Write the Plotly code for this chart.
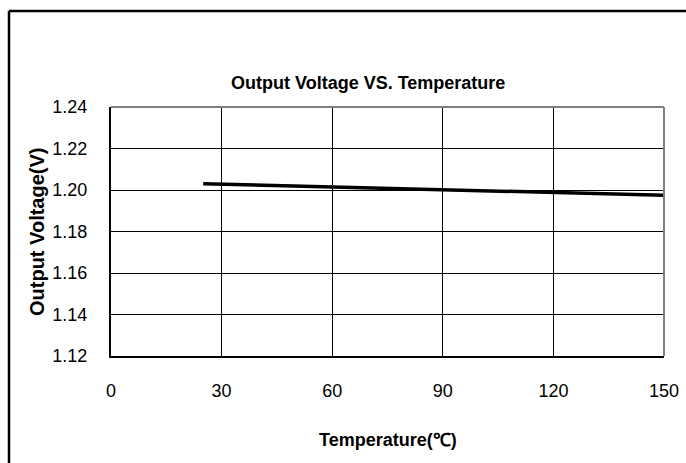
import plotly.graph_objects as go

temperature = [25, 60, 90, 120, 150]
voltage = [1.2030, 1.2015, 1.2000, 1.1990, 1.1975]
x_ticks = [0, 30, 60, 90, 120, 150]
y_ticks = [1.12, 1.14, 1.16, 1.18, 1.20, 1.22, 1.24]

W, H = 686, 463
L, R, T, B = 111, 664, 107, 356

def px(x):
    return (x - L) / (R - L)

def py(y):
    return (B - y) / (B - T)

FONT = "Liberation Sans, Arial, sans-serif"
BFONT = "Liberation Sans, Arial, sans-serif"

fig = go.Figure()
fig.add_trace(go.Scatter(x=temperature, y=voltage, mode="lines",
                         line=dict(color="black", width=3.5), showlegend=False))

fig.update_layout(
    width=W, height=H,
    margin=dict(l=L, r=W - R, t=T, b=H - B),
    paper_bgcolor="white", plot_bgcolor="white",
    xaxis=dict(range=[0, 150], tickvals=x_ticks, ticktext=[str(v) for v in x_ticks],
               showgrid=True, gridcolor="black", gridwidth=1.3, automargin=False,
               showline=True, linecolor="black", linewidth=2,
               ticks="", ticklabelstandoff=17,
               tickfont=dict(family=FONT, size=18, color="black"), zeroline=False),
    yaxis=dict(range=[1.12, 1.24], tickvals=y_ticks, ticktext=[f"{v:.2f}" for v in y_ticks],
               showgrid=True, gridcolor="black", gridwidth=1.3, automargin=False,
               showline=True, linecolor="black", linewidth=2,
               ticks="", ticklabelstandoff=18,
               tickfont=dict(family=FONT, size=18, color="black"), zeroline=False),
    shapes=[
        dict(type="line", xref="paper", yref="paper", x0=0, x1=1, y0=1, y1=1,
             line=dict(color="#808080", width=2)),
        dict(type="line", xref="paper", yref="paper", x0=1, x1=1, y0=0, y1=1,
             line=dict(color="#808080", width=2)),
        dict(type="line", xref="paper", yref="paper", x0=px(9), x1=px(700), y0=py(11), y1=py(11),
             line=dict(color="black", width=2.5)),
        dict(type="line", xref="paper", yref="paper", x0=px(9), x1=px(9), y0=py(11), y1=py(480),
             line=dict(color="black", width=2.5)),
    ],
    annotations=[
        dict(text="<b>Output Voltage VS. Temperature</b>", xref="paper", yref="paper",
             x=px(367.5), y=py(83), xanchor="center", yanchor="middle", showarrow=False,
             font=dict(family=BFONT, size=18, color="black")),
        dict(text="<b>Temperature(℃)</b>", xref="paper", yref="paper",
             x=px(388), y=py(440), xanchor="center", yanchor="middle", showarrow=False,
             font=dict(family=BFONT, size=18, color="black")),
        dict(text="<b>Output Voltage(V)</b>", xref="paper", yref="paper",
             x=px(37), y=py(232), xanchor="center", yanchor="middle", showarrow=False,
             textangle=-90,
             font=dict(family=BFONT, size=20, color="black")),
    ],
)

fig.write_html("out.html", config={"displayModeBar": False},
               post_script="document.body.style.margin='0';document.body.style.overflow='hidden';")
